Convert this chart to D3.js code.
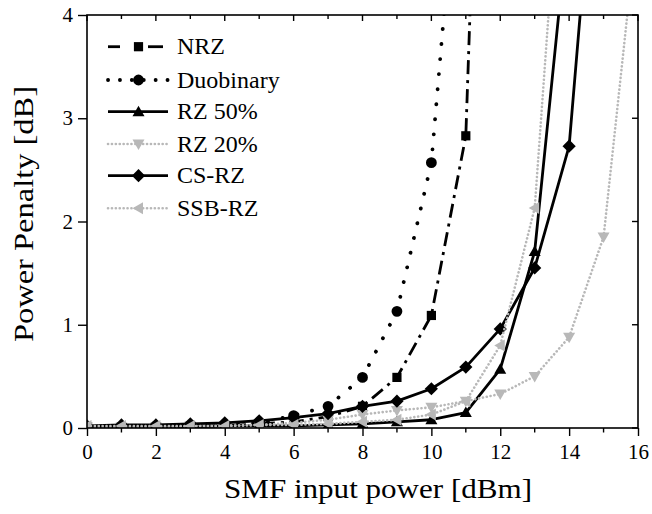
<!DOCTYPE html>
<html><head><meta charset="utf-8">
<script src="https://cdn.jsdelivr.net/npm/d3@7"></script>
<style>body{margin:0;background:#fff}text{font-family:"Liberation Serif","DejaVu Serif",serif}</style>
</head><body><svg id="c" width="652" height="514"></svg>
<script>
const xValues = [0,1,2,3,4,5,6,7,8,9,10,11,12,13,14,15,16];
const nrz        = [0.01,0.01,0.01,0.02,0.02,0.04,0.06,0.11,0.21,0.49,1.09,2.83,12.6];
const duobinary  = [0.01,0.01,0.02,0.02,0.03,0.05,0.12,0.21,0.49,1.13,2.57,6.5];
const rz50       = [0.01,0.01,0.01,0.01,0.02,0.02,0.02,0.03,0.04,0.06,0.08,0.15,0.57,1.71,5.0];
const rz20       = [0.01,0.01,0.01,0.02,0.02,0.03,0.05,0.08,0.13,0.17,0.20,0.26,0.33,0.50,0.88,1.85,4.97];
const csrz       = [0.02,0.03,0.03,0.04,0.05,0.07,0.10,0.14,0.21,0.26,0.38,0.59,0.96,1.55,2.73,6.7];
const ssbrz      = [0.02,0.02,0.02,0.02,0.02,0.03,0.03,0.04,0.06,0.08,0.13,0.26,0.80,2.13,6.8];
const seriesNames = ["NRZ","Duobinary","RZ 50%","RZ 20%","CS-RZ","SSB-RZ"];
const xTicks = [0,2,4,6,8,10,12,14,16];
const yTicks = [0,1,2,3,4];

const series = [
  {name:seriesNames[0], v:nrz, color:"#000", dash:"14,6,3,6", cap:"butt", w:2.8, sym:"square"},
  {name:seriesNames[1], v:duobinary, color:"#000", dash:"0.1,15", cap:"round", w:3.8, sym:"circle"},
  {name:seriesNames[2], v:rz50, color:"#000", dash:null, cap:"butt", w:2.8, sym:"up"},
  {name:seriesNames[3], v:rz20, color:"#b8b8b8", dash:"0.1,3.8", cap:"round", w:2.6, sym:"down"},
  {name:seriesNames[4], v:csrz, color:"#000", dash:null, cap:"butt", w:2.8, sym:"diamond"},
  {name:seriesNames[5], v:ssbrz, color:"#b8b8b8", dash:"0.1,3.8", cap:"round", w:2.6, sym:"left"}
];

const svg = d3.select("#c");
const L=87, R=638, T=15, B=428;
const x = d3.scaleLinear().domain([0,16]).range([L,R]);
const y = d3.scaleLinear().domain([0,4]).range([B,T]);

svg.append("defs").append("clipPath").attr("id","clip")
  .append("rect").attr("x",L).attr("y",T).attr("width",R-L).attr("height",B-T);

function symPath(sym){
  switch(sym){
    case "square": return "M-4.6,-4.6H4.6V4.6H-4.6Z";
    case "circle": return d3.symbol(d3.symbolCircle, 92)();
    case "up": return "M0,-6L6,4.5L-6,4.5Z";
    case "down": return "M0,6L6,-4.5L-6,-4.5Z";
    case "diamond": return "M0,-6.6L6.6,0L0,6.6L-6.6,0Z";
    case "left": return "M-6,0L4.5,-6L4.5,6Z";
  }
}

const plot = svg.append("g").attr("clip-path","url(#clip)");
const line = d3.line().x((d,i)=>x(xValues[i])).y(d=>y(d));
series.forEach(s=>{
  const g = plot.append("g");
  g.append("path").attr("d", line(s.v)).attr("fill","none")
    .attr("stroke", s.color).attr("stroke-width", s.w)
    .attr("stroke-dasharray", s.dash).attr("stroke-linecap", s.cap).attr("stroke-linejoin","round");
  g.selectAll("path.m").data(s.v).enter().append("path").attr("class","m")
    .attr("transform",(d,i)=>`translate(${x(xValues[i])},${y(d)})`)
    .attr("d", symPath(s.sym)).attr("fill", s.color);
});

// frame
svg.append("rect").attr("x",L).attr("y",T).attr("width",R-L).attr("height",B-T)
  .attr("fill","none").attr("stroke","#000").attr("stroke-width",1.6);

// bottom axis
const xb = svg.append("g").attr("transform",`translate(0,${B})`)
  .call(d3.axisBottom(x).tickValues(xTicks).tickSize(8).tickPadding(8).tickFormat(d3.format("d")));
xb.select(".domain").remove();
xb.selectAll("line").attr("stroke-width",1.4);
xb.selectAll("text").attr("font-size",21).attr("fill","#000");
const minorX = d3.range(1,16,2);
svg.append("g").attr("transform",`translate(0,${B})`).selectAll("line").data(minorX).enter()
  .append("line").attr("x1",d=>x(d)).attr("x2",d=>x(d)).attr("y1",0).attr("y2",4.5).attr("stroke","#000").attr("stroke-width",1.4);
// top ticks inward
svg.append("g").selectAll("line").data(d3.range(0,17)).enter().append("line")
  .attr("x1",d=>x(d)).attr("x2",d=>x(d)).attr("y1",T).attr("y2",d=>T+(d%2===0?6:4))
  .attr("stroke","#000").attr("stroke-width",1.4);

// left axis
const yl = svg.append("g").attr("transform",`translate(${L},0)`)
  .call(d3.axisLeft(y).tickValues(yTicks).tickSize(9).tickPadding(5).tickFormat(d3.format("d")));
yl.select(".domain").remove();
yl.selectAll("line").attr("stroke-width",1.4);
yl.selectAll("text").attr("font-size",21).attr("fill","#000");
// right ticks inward
svg.append("g").selectAll("line").data(yTicks).enter().append("line")
  .attr("x1",R).attr("x2",R-6).attr("y1",d=>y(d)).attr("y2",d=>y(d))
  .attr("stroke","#000").attr("stroke-width",1.4);

// titles
svg.append("text").attr("x",378).attr("y",498).attr("text-anchor","middle")
  .attr("font-size",28).attr("textLength",308).attr("lengthAdjust","spacingAndGlyphs")
  .text("SMF input power [dBm]");
svg.append("text").attr("transform","translate(33,214) rotate(-90)").attr("text-anchor","middle")
  .attr("font-size",28).attr("textLength",256).attr("lengthAdjust","spacingAndGlyphs")
  .text("Power Penalty [dB]");

// legend
const legY = [46.7,80,111.7,144,175.7,208.3];
const lg = svg.append("g");
series.forEach((s,i)=>{
  const yy = legY[i];
  if (s.name==="NRZ") {
    [[108,120],[148,163]].forEach(seg=>lg.append("line").attr("x1",seg[0]).attr("x2",seg[1])
      .attr("y1",yy).attr("y2",yy).attr("stroke",s.color).attr("stroke-width",s.w));
  } else if (s.name==="Duobinary") {
    lg.append("line").attr("x1",108).attr("x2",168).attr("y1",yy).attr("y2",yy)
      .attr("stroke",s.color).attr("stroke-width",s.w).attr("stroke-dasharray","0.1,11.8").attr("stroke-linecap","round");
  } else {
    lg.append("line").attr("x1",108).attr("x2",168).attr("y1",yy).attr("y2",yy)
      .attr("stroke",s.color).attr("stroke-width",s.w).attr("stroke-dasharray",s.dash).attr("stroke-linecap",s.cap);
  }
  lg.append("path").attr("transform",`translate(138.5,${yy})`).attr("d",symPath(s.sym)).attr("fill",s.color);
  lg.append("text").attr("x",177).attr("y",yy+7.5).attr("font-size",24).text(s.name);
});
</script></body></html>
